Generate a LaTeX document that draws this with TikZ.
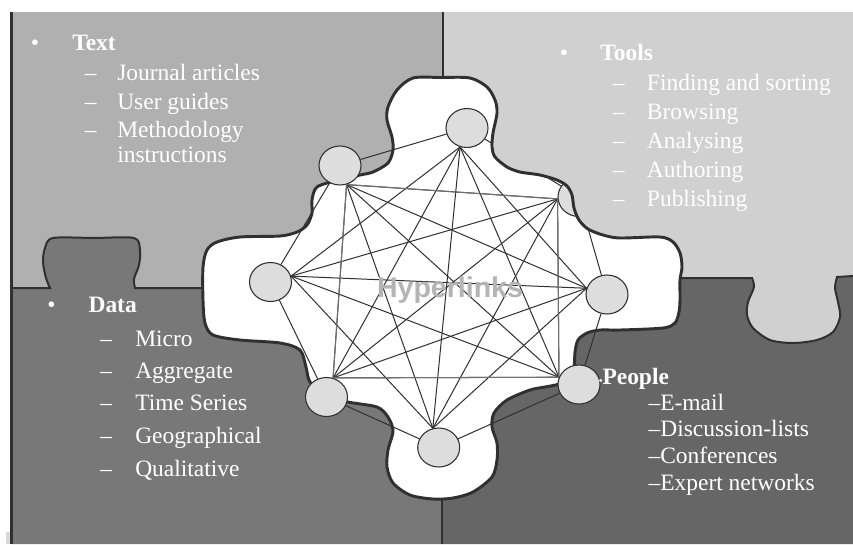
\documentclass[tikz,border=0pt]{standalone}
\usepackage{fontspec}
\setmainfont{Liberation Serif}
\newfontfamily\hyperfont{Liberation Sans}
\usetikzlibrary{shapes.geometric}

\definecolor{textpiece}{HTML}{B0B0B0}
\definecolor{toolspiece}{HTML}{D0D0D0}
\definecolor{datapiece}{HTML}{787878}
\definecolor{peoplepiece}{HTML}{666666}
\definecolor{sitefill}{HTML}{DDDDDD}
\definecolor{edgegray}{HTML}{303030}
\definecolor{framegray}{HTML}{707070}
\definecolor{hypergray}{HTML}{B4B4B4}

% outline of the white hole in the middle of the puzzle
\newcommand{\blobline}{plot[smooth cycle,tension=0.5] coordinates {
  (413,78) (441,77.5) (470,78) (487,87) (495,100) (497,113) (493,133) (492,147)
  (495,157) (507,167) (520,172) (540,175) (557,180) (567,186) (572,195)
  (574,208) (579,220) (588,229) (603,235) (620,238) (660,237) (673,242)
  (680,253) (682,267) (680,280) (680,300) (679,312) (675,323) (663,328)
  (620,330) (600,330) (587,333) (578,340) (575,352) (574,366) (568,378)
  (559,384) (545,387) (530,390) (507,400) (494,413) (492,427) (497,443)
  (497,460) (492,477) (473,492) (453,498) (433,499) (410,495) (393,483)
  (387,467) (388,450) (393,431) (388,417) (377,407) (348,402) (325,395)
  (310,382) (306,367) (300,350) (280,343) (240,340) (213,335) (205,323)
  (203,300) (203,267) (207,250) (217,242) (240,237) (280,236) (297,232)
  (307,225) (312,213) (312,200) (317,187) (338,180) (360,175) (373,172)
  (388,163) (393,150) (392,137) (387,120) (388,107) (397,90)}}

\begin{document}
\begin{tikzpicture}[x=0.75pt,y=-0.75pt,
    % styles
    piece edge/.style={draw=edgegray,line width=1.5pt},
    border/.style={draw=edgegray,line width=2pt},
    blob edge/.style={draw=edgegray,line width=2.2pt},
    site/.style={ellipse,draw=edgegray,fill=sitefill,line width=0.8pt,
      minimum width=31.5pt,minimum height=29.25pt,inner sep=0pt},
    link/.style={edgegray,line width=0.75pt},
    frame link/.style={framegray,line width=0.8pt},
    list item/.style={anchor=base west,inner sep=0pt,text=white,
      font=\fontsize{17.6}{20}\selectfont},
    list head/.style={list item,font=\fontsize{17.6}{20}\selectfont\bfseries},
    hyper/.style={anchor=base,inner sep=0pt,text=hypergray,
      font=\hyperfont\bfseries\fontsize{21.4}{24}\selectfont}]

  \useasboundingbox (0,0) rectangle (853,544);

  % pieces
  \fill[textpiece] (12,12) rectangle (443,300);
  \fill[toolspiece] (443,12) rectangle (853,350);
  \fill[datapiece] (12,544) -- (12,288) -- (50,288)
    -- plot[smooth,tension=0.5] coordinates {(50,288) (46,278) (43,262) (45,248)
       (53,238) (94,238) (134,238) (140,250) (139,265) (134,279) (135,288)}
    -- (442,288) -- (442,544) -- cycle;
  \fill[peoplepiece] (442,544) -- (442,278) -- (752,278)
    -- plot[smooth,tension=0.5] coordinates {(752,278) (754,287) (748,302)
       (747,315) (753,328) (770,340) (793,343) (817,340) (833,332) (840,317)
       (838,302) (835,288) (837,277)}
    -- (853,276) -- (853,544) -- cycle;
  \fill[gray!30] (6,532) rectangle (10.5,544);

  % piece edges
  \draw[border] (11.3,12) -- (11.3,544);
  \draw[piece edge] (12,288) -- (50,288)
    -- plot[smooth,tension=0.5] coordinates {(50,288) (46,278) (43,262) (45,248)
       (53,238) (94,238) (134,238) (140,250) (139,265) (134,279) (135,288)}
    -- (210,288);
  \draw[piece edge] (675,278) -- (752,278)
    -- plot[smooth,tension=0.5] coordinates {(752,278) (754,287) (748,302)
       (747,315) (753,328) (770,340) (793,343) (817,340) (833,332) (840,317)
       (838,302) (835,288) (837,277)}
    -- (853,276);
  \draw[piece edge] (443,12) -- (443,80);
  \draw[piece edge] (442,495) -- (442,544);

  % hole
  \fill[white] \blobline;
  \begin{scope}
    \clip \blobline;
    \node[site] (n1) at (579,197) {};
  \end{scope}
  \draw[blob edge] \blobline;

  % sites, going round from the top
  \node[site] (n0) at (467,128) {};
  \node[site] (n2) at (607,294.5) {};
  \node[site] (n3) at (579,384.5) {};
  \node[site] (n4) at (438.7,447.5) {};
  \node[site] (n5) at (326.5,397) {};
  \node[site] (n6) at (270.5,282) {};
  \node[site] (n7) at (340,165.5) {};

  % where the hyperlinks leave each site
  \foreach \i/\a in {0/-110,1/185,2/163,3/160,4/107,5/71,6/16,7/-71}
    \coordinate (s\i) at (n\i.\a);

  % hyperlinks
  \foreach \i in {0,...,7}
    \foreach \k in {2,3} {
      \pgfmathtruncatemacro\j{mod(\i+\k,8)}
      \draw[link] (s\i) -- (s\j);
    }
  \foreach \i in {0,...,3} {
    \pgfmathtruncatemacro\j{\i+4}
    \draw[link] (s\i) -- (s\j);
  }
  \draw[frame link] (s7) -- (s1) -- (s3) -- (s5) -- cycle;

  % ring
  \foreach \i/\j in {2/3,3/4,4/5,5/6,6/7,7/0}
    \draw[link] (n\i) -- (n\j);
  \begin{scope}
    \clip \blobline;
    \draw[link] (n0) -- (n1) (n1) -- (n2);
  \end{scope}

  \node[hyper] (hub) at (450,297) {Hyperlinks};

  % text
  \node[list item] (txtbullet) at (30.5,50.7) {\textbullet};
  \node[list head] (txthead) at (72,50.7) {Text};
  \foreach \y/\t [count=\i] in {80.7/Journal articles,109/User guides,137.7/Methodology} {
    \node[list item] (txtdash\i) at (84.5,\y) {\textendash};
    \node[list item] (txt\i) at (117,\y) {\t};
  }
  \node[list item] (txt4) at (117,162.7) {instructions};

  % tools
  \node[list item] (toolbullet) at (559.5,60.7) {\textbullet};
  \node[list head] (toolhead) at (600,60.7) {Tools};
  \foreach \y/\t [count=\i] in {90/Finding and sorting,119/Browsing,148.3/Analysing,177.3/Authoring,206.7/Publishing} {
    \node[list item] (tooldash\i) at (612.5,\y) {\textendash};
    \node[list item] (tool\i) at (646.7,\y) {\t};
  }

  % data
  \node[list item] (databullet) at (47,312.7) {\textbullet};
  \node[list head] (datahead) at (88.3,312.7) {Data};
  \foreach \y/\t [count=\i] in {346/Micro,378.3/Aggregate,410.7/Time Series,443.3/Geographical,476/Qualitative} {
    \node[list item] (datadash\i) at (100,\y) {\textendash};
    \node[list item] (data\i) at (135,\y) {\t};
  }

  % people
  \node[list head] (peoplehead) at (598.5,384) {{\fontsize{8}{8}\selectfont\textbullet}People};
  \foreach \y/\t [count=\i] in {410.7/E-mail,436.7/Discussion-lists,463.3/Conferences,490/Expert networks}
    \node[list item] (people\i) at (648.3,\y) {\textendash\t};
\end{tikzpicture}
\end{document}
